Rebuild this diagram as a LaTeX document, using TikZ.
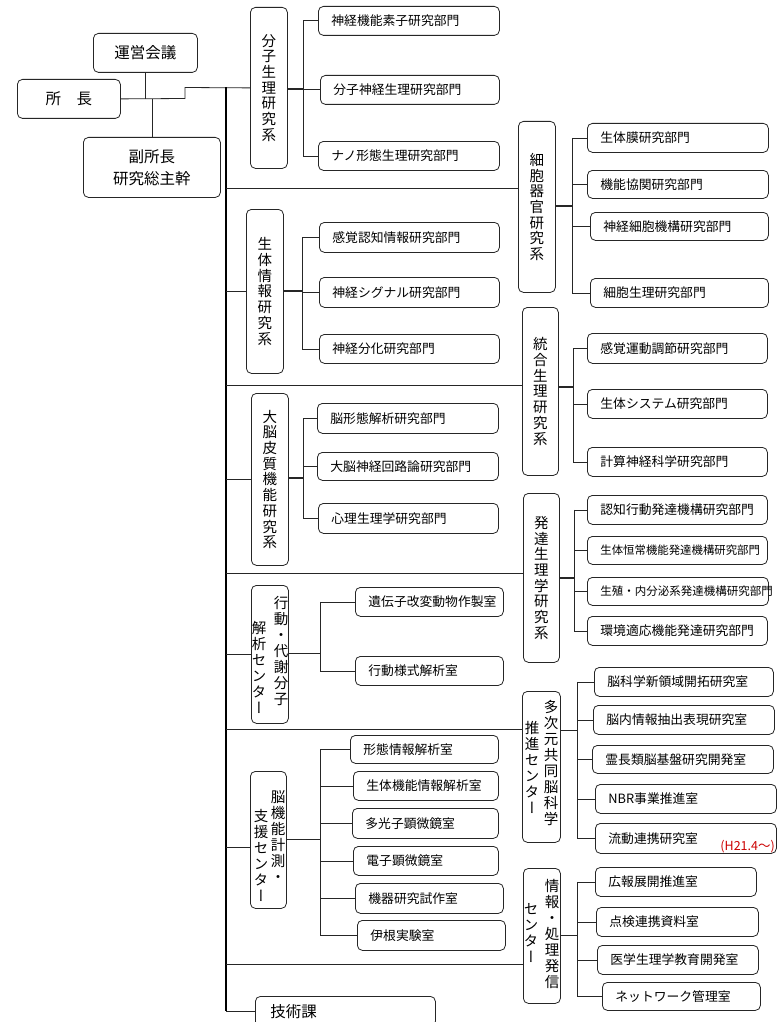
\documentclass[tikz,border=0pt]{standalone}
\usepackage{fontspec}
\setmainfont{Noto Sans CJK JP}
\newfontfamily\vfont[RawFeature=+vert]{Noto Sans CJK JP}
\tikzset{
  ob/.style={draw=black!85, line width=0.8pt, rounded corners=5pt, anchor=north west, align=left, inner xsep=13pt, inner ysep=0pt, font=\fontsize{12.8}{14}\selectfont},
  oc/.style={ob, align=center, font=\fontsize{15.5}{22}\selectfont},
  sb/.style={draw=black!85, line width=0.8pt, rounded corners=5pt, anchor=north west, align=center, inner sep=0pt, font=\vfont\fontsize{14.5}{15.7}\selectfont},
  vt/.style={align=center, inner sep=0pt, font=\vfont\fontsize{14.5}{16}\selectfont},
  ln/.style={draw=black!85, line width=0.8pt},
  thk/.style={draw=black!85, line width=1.6pt},
  trunk/.style={draw=black, line width=1.8pt},
  sep/.style={draw=black!85, line width=1pt},
}
\newcommand\orgbox[7][ob]{%
  \pgfmathsetmacro\orgW{#5-#3}\pgfmathsetmacro\orgH{#6-#4}\pgfmathsetmacro\orgT{#5-#3-26}%
  \node[#1,minimum width=\orgW pt,minimum height=\orgH pt,text width=\orgT pt] (#2) at (#3,#4) {#7};}
\newcommand\sysbox[6]{%
  \pgfmathsetmacro\orgW{#4-#2}\pgfmathsetmacro\orgH{#5-#3}%
  \node[sb,minimum width=\orgW pt,minimum height=\orgH pt] (#1) at (#2,#3) {#6};}
\begin{document}
\begin{tikzpicture}[x=1pt,y=-1pt]
\fill[white] (0,0) rectangle (782,1022);
\useasboundingbox (0,0) rectangle (782,1022);

% top left
\orgbox[oc]{unei}{93}{33}{197}{72}{運営会議}
\orgbox[oc]{shocho}{17}{79}{120}{118}{所　長}
\orgbox[oc]{fuku}{83}{137}{220}{197}{副所長\\研究総主幹}

% system boxes
\sysbox{sA}{250}{7}{287}{168}{分\\子\\生\\理\\研\\究\\系}
\sysbox{sB}{246}{209}{283}{373}{生\\体\\情\\報\\研\\究\\系}
\sysbox{sC}{251}{393}{288}{565}{大\\脳\\皮\\質\\機\\能\\研\\究\\系}
\sysbox{sD}{251}{585}{288}{723}{}
\sysbox{sE}{250}{771}{286}{908}{}
\sysbox{rA}{518}{121}{555}{292}{細\\胞\\器\\官\\研\\究\\系}
\sysbox{rB}{522}{307}{558}{475}{統\\合\\生\\理\\研\\究\\系}
\sysbox{rC}{523}{493}{559}{662}{発\\達\\生\\理\\学\\研\\究\\系}
\sysbox{rD}{522}{691}{560}{842}{}
\sysbox{rE}{523}{868}{560}{1003}{}
\node[vt] (sDr) at (281,651) {行\\動\\・\\代\\謝\\分\\子};
\node[vt] (sDl) at (259,667) {解\\析\\セ\\ン\\タ\\ー};
\node[vt] (sEr) at (278,837) {脳\\機\\能\\計\\測\\・};
\node[vt] (sEl) at (261,855) {支\\援\\セ\\ン\\タ\\ー};
\node[vt] (rDr) at (551,763) {多\\次\\元\\共\\同\\脳\\科\\学};
\node[vt] (rDl) at (532,767) {推\\進\\セ\\ン\\タ\\ー};
\node[vt] (rEr) at (552,934) {情\\報\\・\\処\\理\\発\\信};
\node[vt] (rEl) at (531,933) {セ\\ン\\タ\\ー};

% left children
\orgbox{c11}{318}{6}{499}{35}{神経機能素子研究部門}
\orgbox{c12}{320}{75}{499}{104}{分子神経生理研究部門}
\orgbox{c13}{318}{141}{499}{170}{ナノ形態生理研究部門}
\orgbox{c21}{319}{222}{499}{252}{感覚認知情報研究部門}
\orgbox{c22}{319}{277}{499}{307}{神経シグナル研究部門}
\orgbox{c23}{319}{334}{499}{363}{神経分化研究部門}
\orgbox{c31}{317}{403}{498}{433}{脳形態解析研究部門}
\orgbox{c32}{317}{452}{498}{480}{大脳神経回路論研究部門}
\orgbox{c33}{318}{503}{498}{533}{心理生理学研究部門}
\orgbox{c41}{355}{587}{503}{616}{遺伝子改変動物作製室}
\orgbox{c42}{355}{656}{503}{685}{行動様式解析室}
\orgbox{c51}{350}{735}{498}{763}{形態情報解析室}
\orgbox{c52}{353}{771}{498}{800}{生体機能情報解析室}
\orgbox{c53}{352}{808}{498}{838}{多光子顕微鏡室}
\orgbox{c54}{353}{846}{498}{875}{電子顕微鏡室}
\orgbox{c55}{355}{883}{503}{913}{機器研究試作室}
\orgbox{c56}{357}{920}{505}{950}{伊根実験室}
\orgbox[ob,font=\fontsize{15.5}{18}\selectfont]{gijutsu}{255}{996}{435}{1026}{\hspace{2pt}技術課}

% right children
\orgbox{r11}{587}{123}{768}{152}{生体膜研究部門}
\orgbox{r12}{587}{170}{768}{198}{機能協関研究部門}
\orgbox{r13}{590}{212}{768}{240}{神経細胞機構研究部門}
\orgbox{r14}{590}{278}{768}{307}{細胞生理研究部門}
\orgbox{r21}{587}{333}{767}{363}{感覚運動調節研究部門}
\orgbox{r22}{587}{389}{767}{418}{生体システム研究部門}
\orgbox{r23}{587}{447}{767}{476}{計算神経科学研究部門}
\orgbox{r31}{587}{495}{767}{524}{認知行動発達機構研究部門}
\orgbox[ob,font=\fontsize{11.4}{13}\selectfont]{r32}{587}{536}{767}{564}{生体恒常機能発達機構研究部門}
\orgbox[ob,font=\fontsize{11.5}{13}\selectfont]{r33}{587}{577}{768}{605}{生殖・内分泌系発達機構研究部門}
\orgbox{r34}{587}{616}{767}{645}{環境適応機能発達研究部門}
\orgbox{r41}{594}{667}{773}{696}{脳科学新領域開拓研究室}
\orgbox{r42}{593}{705}{774}{734}{脳内情報抽出表現研究室}
\orgbox{r43}{592}{745}{773}{773}{霊長類脳基盤研究開発室}
\orgbox{r44}{595}{784}{776}{813}{NBR事業推進室}
\orgbox{r45}{595}{823}{776}{853}{流動連携研究室}
\orgbox{r51}{595}{867}{756}{896}{広報展開推進室}
\orgbox{r52}{596}{907}{758}{936}{点検連携資料室}
\orgbox{r53}{597}{945}{758}{974}{医学生理学教育開発室}
\orgbox{r54}{602}{982}{760}{1010}{ネットワーク管理室}
\node[anchor=south east, inner sep=0pt, text=red!80!black, font=\fontsize{12.5}{14}\selectfont] (h21) at (775,853) {(H21.4～)};

% top-left connectors
\coordinate (k1) at (185,98.5);
\coordinate (k2) at (185,87.5);
\draw[ln] (shocho.east) -- (k1) -- (k2) -- (sA.west);
\draw[ln] (unei.south) -- (unei.south |- shocho.east);
\draw[ln] (fuku.north) -- (fuku.north |- shocho.east);

% trunk
\coordinate (tTop) at (226,87.5);
\coordinate (tBot) at (226,1011);
\draw[trunk] (tTop) -- (tBot);
\draw[ln] (tBot) -- (gijutsu.west |- tBot);
\draw[ln] (tTop |- sB.west) -- (sB.west);
\draw[ln] (tTop |- sC.west) -- (sC.west);
\draw[ln] (tTop |- sD.west) -- (sD.west);
\coordinate (j6) at (226,847);
\draw[ln] (j6) -- (sE.west |- j6);

% separators to right systems
\coordinate (j1) at (226,188);
\coordinate (j2) at (226,385);
\coordinate (j3) at (226,573);
\coordinate (j4) at (226,729);
\coordinate (j5) at (226,964);
\draw[sep] (j1) -- (rA.west |- j1);
\draw[sep] (j2) -- (rB.west |- j2);
\draw[sep] (j3) -- (rC.west |- j3);
\draw[sep] (j4) -- (rD.west |- j4);
\draw[sep] (j5) -- (rE.west |- j5);

% branches
\coordinate (bA) at (303,89);
\draw[thk] (sA.east |- bA) -- (bA);
\draw[ln] (bA |- c11.west) -- (bA |- c13.west);
\foreach \ch in {c11,c12,c13} \draw[ln] (bA |- \ch.west) -- (\ch.west);

\coordinate (bB) at (302,291);
\draw[thk] (sB.east |- bB) -- (bB);
\draw[ln] (bB |- c21.west) -- (bB |- c23.west);
\foreach \ch in {c21,c22,c23} \draw[ln] (bB |- \ch.west) -- (\ch.west);

\coordinate (bC) at (303,478);
\draw[thk] (sC.east |- bC) -- (bC);
\draw[ln] (bC |- c31.west) -- (bC |- c33.west);
\foreach \ch in {c31,c32,c33} \draw[ln] (bC |- \ch.west) -- (\ch.west);

\coordinate (bD) at (320,653);
\draw[ln] (sD.east |- bD) -- (bD);
\draw[ln] (bD |- c41.west) -- (bD |- c42.west);
\foreach \ch in {c41,c42} \draw[ln] (bD |- \ch.west) -- (\ch.west);

\coordinate (bE) at (320,839);
\draw[ln] (sE.east |- bE) -- (bE);
\draw[ln] (bE |- c51.west) -- (bE |- c56.west);
\foreach \ch in {c51,c52,c53,c54,c55,c56} \draw[ln] (bE |- \ch.west) -- (\ch.west);

\coordinate (bRA) at (572,206);
\draw[thk] (rA.east |- bRA) -- (bRA);
\draw[ln] (bRA |- r11.west) -- (bRA |- r14.west);
\foreach \ch in {r11,r12,r13,r14} \draw[ln] (bRA |- \ch.west) -- (\ch.west);

\coordinate (bRB) at (573,387);
\draw[thk] (rB.east |- bRB) -- (bRB);
\draw[ln] (bRB |- r21.west) -- (bRB |- r23.west);
\foreach \ch in {r21,r22,r23} \draw[ln] (bRB |- \ch.west) -- (\ch.west);

\coordinate (bRC) at (574,578);
\draw[thk] (rC.east |- bRC) -- (bRC);
\draw[ln] (bRC |- r31.west) -- (bRC |- r34.west);
\foreach \ch in {r31,r32,r33,r34} \draw[ln] (bRC |- \ch.west) -- (\ch.west);

\coordinate (bRD) at (577,730);
\draw[ln] (rD.east |- bRD) -- (bRD);
\draw[ln] (bRD |- r41.west) -- (bRD |- r45.west);
\foreach \ch in {r41,r42,r43,r44,r45} \draw[ln] (bRD |- \ch.west) -- (\ch.west);

\coordinate (bRE) at (577,935);
\draw[ln] (rE.east |- bRE) -- (bRE);
\draw[ln] (bRE |- r51.west) -- (bRE |- r54.west);
\foreach \ch in {r51,r52,r53,r54} \draw[ln] (bRE |- \ch.west) -- (\ch.west);
\end{tikzpicture}
\end{document}
